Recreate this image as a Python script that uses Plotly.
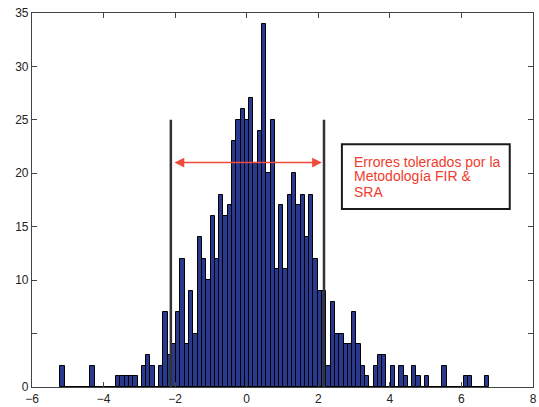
import plotly.graph_objects as go

# Histogram: 100 bins, left edge and width of the bins (data units)
bin_start = -5.208
bin_width = 0.1199
counts = [
    2, 0, 0, 0, 0, 0, 0, 2, 0, 0,
    0, 0, 0, 1, 1, 1, 1, 1, 0, 2,
    3, 2, 0, 2, 7, 3, 4, 7, 12, 4,
    9, 5, 14, 12, 10, 16, 12, 18, 16, 17,
    23, 25, 26, 25, 27, 21, 24, 34, 20, 25,
    11, 17, 11, 18, 20, 17, 18, 14, 18, 12,
    9, 9, 2, 8, 5, 5, 4, 4, 7, 4,
    2, 1, 0, 2, 3, 3, 0, 2, 0, 2,
    1, 0, 2, 1, 0, 1, 0, 0, 0, 2,
    0, 0, 0, 0, 1, 1, 0, 0, 0, 1,
]
centers = [bin_start + bin_width * (i + 0.5) for i in range(len(counts))]

# tolerance limits and annotation
tol_low, tol_high = -2.12, 2.16
tol_line_top = 25
arrow_y = 21
box_lines = ["Errores tolerados por la", "Metodología FIR &", "SRA"]
box_line_y = [21.1, 19.7, 18.25]

x_ticks = [-6, -4, -2, 0, 2, 4, 6, 8]
y_ticks = [0, 5, 10, 15, 20, 25, 30, 35]
y_ticktext = ["0", "", "10", "15", "20", "25", "30", "35"]

fig = go.Figure()
fig.add_trace(go.Bar(
    x=centers, y=counts, width=bin_width,
    marker=dict(color="#28398f", line=dict(color="#000000", width=1)),
    showlegend=False, hoverinfo="skip",
))

for xv in (tol_low, tol_high):
    fig.add_shape(type="line", xref="x", yref="y", x0=xv, x1=xv, y0=0, y1=tol_line_top,
                  line=dict(color="#333333", width=2.5), layer="above")

fig.add_annotation(x=tol_high - 0.06, y=arrow_y, ax=tol_low + 0.06, ay=arrow_y,
                   xref="x", yref="y", axref="x", ayref="y", text="",
                   showarrow=True, arrowside="end+start", arrowhead=2,
                   arrowsize=1.3, arrowwidth=1.5, arrowcolor="#f04a3a")

fig.add_shape(type="rect", xref="x", yref="y", x0=2.66, x1=7.35, y0=16.65, y1=22.72,
              line=dict(color="#1a1a1a", width=2), fillcolor="white", layer="above")
for txt, yv in zip(box_lines, box_line_y):
    fig.add_annotation(x=2.95, y=yv, xref="x", yref="y", text=txt,
                       showarrow=False, xanchor="left", yanchor="middle", align="left",
                       font=dict(family="Liberation Sans, Arial, sans-serif", size=14, color="#f03c2c"))

axis_common = dict(showline=True, linecolor="#444444", linewidth=1.2, mirror="ticks",
                   ticks="inside", ticklen=5, tickcolor="#444444", showgrid=False,
                   zeroline=False, automargin=False,
                   tickfont=dict(family="Liberation Sans, Arial, sans-serif", size=12, color="#222222"))

fig.update_xaxes(range=[-6, 8], tickvals=x_ticks, **axis_common)
fig.update_yaxes(range=[0, 35], tickvals=y_ticks, ticktext=y_ticktext, **axis_common)

fig.update_layout(
    width=539, height=407,
    margin=dict(l=32, r=6, t=13, b=20),
    paper_bgcolor="white", plot_bgcolor="white",
    bargap=0,
)

fig.write_html("out.html", config={"displayModeBar": False},
               post_script="document.body.style.margin='0';document.body.style.overflow='hidden';")
